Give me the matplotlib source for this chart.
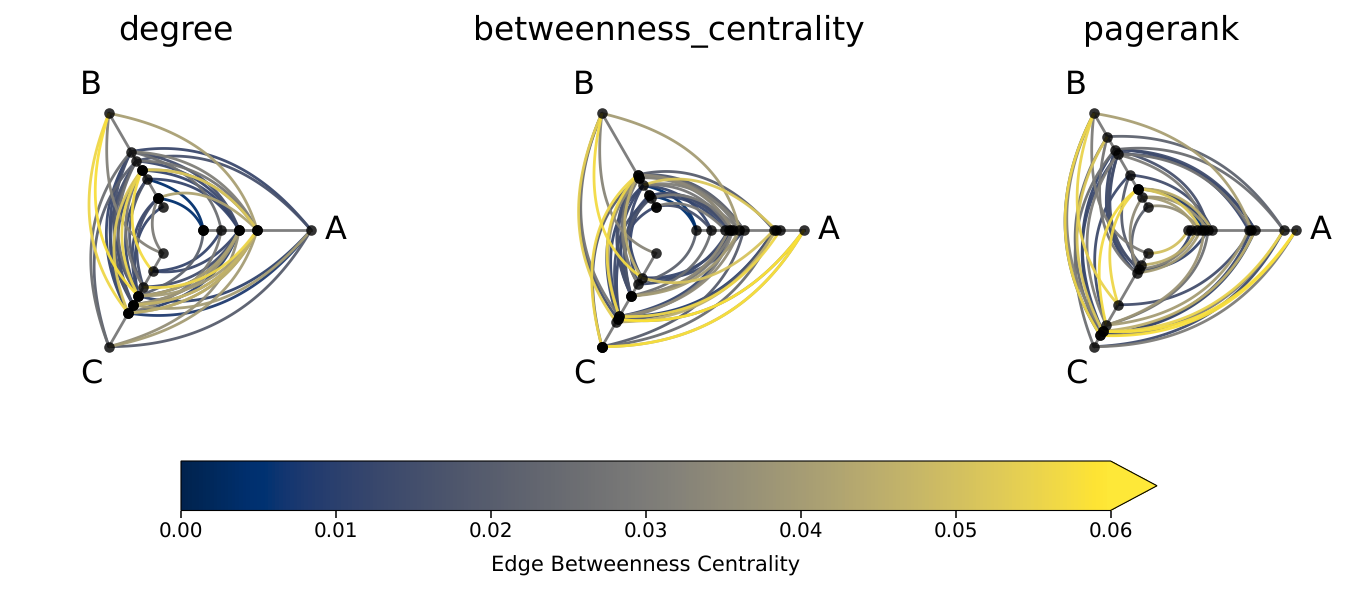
import numpy as np
import matplotlib
matplotlib.use('Agg')
import matplotlib.pyplot as plt
from matplotlib.collections import LineCollection
from matplotlib.colors import Normalize
from matplotlib.cm import ScalarMappable

# node positions along each axis (0 = inner end, 1 = outer end), with how many nodes sit there
degree_a = [0, 0.167, 0.333, 0.5, 1]
degree_a_n = [3, 1, 3, 3, 1]
degree_b = [0, 0.09, 0.295, 0.39, 0.49, 0.59, 1]
degree_b_n = [1, 3, 1, 3, 1, 1, 1]
degree_c = [0, 0.19, 0.36, 0.455, 0.55, 0.64, 1]
degree_c_n = [1, 1, 1, 3, 3, 3, 1]

between_a = [0, 0.14, 0.27, 0.30, 0.32, 0.34, 0.40, 0.44, 0.72, 0.74, 0.78, 1]
between_a_n = [1, 1, 1, 1, 1, 1, 1, 1, 1, 1, 1, 1]
between_b = [0, 0.09, 0.12, 0.23, 0.31, 0.34, 1]
between_b_n = [2, 1, 2, 1, 2, 2, 1]
between_c = [0, 0.26, 0.33, 0.455, 0.675, 0.705, 0.735, 1]
between_c_n = [1, 1, 1, 3, 2, 2, 1, 4]

pagerank_a = [0, 0.03, 0.08, 0.115, 0.145, 0.185, 0.22, 0.56, 0.585, 0.62, 0.885, 1]
pagerank_a_n = [1, 1, 1, 1, 1, 1, 1, 1, 1, 1, 1, 1]
pagerank_b = [0, 0.10, 0.19, 0.34, 0.56, 0.61, 0.75, 1]
pagerank_b_n = [1, 1, 3, 1, 1, 1, 1, 1]
pagerank_c = [0, 0.125, 0.17, 0.21, 0.55, 0.77, 0.835, 0.88, 1]
pagerank_c_n = [1, 1, 1, 1, 1, 1, 2, 2, 1]

# edges between axes as (index on first axis, index on second axis, edge betweenness)
degree_ab = [(1, 0, 0.004), (2, 0, 0.004), (1, 3, 0.042), (3, 3, 0.052), (3, 2, 0.012),
             (4, 2, 0.013), (5, 4, 0.013), (4, 4, 0.016), (5, 1, 0.026), (5, 3, 0.031),
             (6, 3, 0.041), (5, 2, 0.015), (2, 2, 0.012), (3, 3, 0.033), (4, 3, 0.028)]
degree_bc = [(6, 5, 0.056), (6, 3, 0.058), (6, 0, 0.032), (5, 6, 0.026), (4, 6, 0.021),
             (5, 5, 0.012), (5, 4, 0.013), (4, 4, 0.018), (4, 3, 0.025), (3, 5, 0.052),
             (3, 1, 0.057), (3, 3, 0.055), (3, 4, 0.014), (2, 3, 0.012), (2, 2, 0.018),
             (1, 2, 0.015), (1, 3, 0.013), (3, 2, 0.028), (5, 3, 0.016), (4, 5, 0.014),
             (0, 3, 0.012), (1, 0, 0.03)]
degree_ca = [(1, 1, 0.012), (2, 3, 0.056), (3, 0, 0.022), (3, 2, 0.012), (3, 3, 0.04),
             (4, 2, 0.025), (5, 3, 0.041), (5, 2, 0.01), (5, 4, 0.008), (4, 4, 0.04),
             (6, 4, 0.02), (6, 3, 0.04), (6, 2, 0.036), (2, 2, 0.015), (4, 3, 0.035),
             (5, 1, 0.03), (3, 4, 0.011), (4, 2, 0.038), (1, 2, 0.013), (5, 3, 0.045),
             (3, 2, 0.042), (4, 3, 0.047)]

between_ab = [(2, 0, 0.005), (3, 0, 0.005), (6, 6, 0.04), (5, 8, 0.02), (3, 9, 0.052),
              (5, 7, 0.018), (4, 6, 0.03), (4, 5, 0.032), (3, 4, 0.028), (2, 3, 0.014),
              (1, 2, 0.012), (0, 1, 0.016), (2, 4, 0.015), (3, 7, 0.031), (5, 5, 0.034),
              (3, 1, 0.012), (1, 6, 0.03), (2, 5, 0.013), (0, 2, 0.03), (4, 7, 0.025)]
between_bc = [(6, 6, 0.054), (6, 1, 0.057), (6, 0, 0.033), (6, 5, 0.015), (6, 4, 0.028),
              (5, 7, 0.056), (4, 7, 0.02), (5, 4, 0.056), (5, 3, 0.014), (4, 3, 0.016),
              (3, 3, 0.013), (3, 4, 0.012), (2, 3, 0.014), (1, 3, 0.017), (5, 2, 0.025),
              (4, 5, 0.014), (3, 1, 0.013), (2, 2, 0.012), (1, 4, 0.014), (4, 4, 0.036),
              (4, 2, 0.03), (0, 4, 0.013), (5, 1, 0.045)]
between_ca = [(7, 11, 0.058), (7, 11, 0.042), (5, 11, 0.059), (5, 11, 0.03), (4, 8, 0.009),
              (7, 8, 0.025), (3, 5, 0.03), (1, 8, 0.051), (2, 0, 0.022), (3, 1, 0.026),
              (3, 4, 0.013), (3, 6, 0.04), (4, 6, 0.035), (4, 4, 0.012), (6, 9, 0.045),
              (1, 5, 0.012), (2, 3, 0.014), (3, 3, 0.035), (5, 8, 0.018), (4, 10, 0.056),
              (7, 7, 0.02), (1, 7, 0.013), (5, 5, 0.03)]

pagerank_ab = [(2, 5, 0.004), (2, 4, 0.005), (1, 2, 0.04), (2, 3, 0.052), (2, 5, 0.012),
               (7, 8, 0.041), (6, 10, 0.022), (4, 9, 0.012), (5, 7, 0.013), (5, 10, 0.025),
               (4, 4, 0.03), (5, 5, 0.016), (1, 5, 0.038), (0, 3, 0.036), (3, 6, 0.015),
               (4, 8, 0.028), (5, 9, 0.014), (2, 6, 0.045)]
pagerank_bc = [(7, 7, 0.056), (7, 6, 0.032), (7, 4, 0.055), (7, 0, 0.03), (6, 7, 0.024),
               (5, 8, 0.026), (6, 6, 0.052), (2, 5, 0.057), (2, 4, 0.056), (4, 3, 0.014),
               (5, 3, 0.013), (4, 2, 0.015), (3, 1, 0.02), (1, 2, 0.035), (5, 6, 0.012),
               (4, 7, 0.013), (3, 5, 0.014), (6, 3, 0.028), (7, 7, 0.012), (5, 2, 0.016),
               (0, 3, 0.022), (4, 5, 0.03)]
pagerank_ca = [(6, 11, 0.058), (7, 11, 0.058), (8, 11, 0.03), (8, 10, 0.014), (4, 8, 0.015),
               (5, 7, 0.04), (2, 5, 0.012), (1, 2, 0.045), (3, 3, 0.04), (5, 5, 0.026),
               (7, 10, 0.03), (6, 9, 0.045), (7, 9, 0.012), (6, 10, 0.055), (3, 1, 0.012),
               (0, 0, 0.05), (2, 2, 0.033), (5, 4, 0.038), (7, 8, 0.013)]

titles = ['degree', 'betweenness_centrality', 'pagerank']
axis_names = ['A', 'B', 'C']
axis_angles = [0, 120, 240]
cbar_ticks = [0.00, 0.01, 0.02, 0.03, 0.04, 0.05, 0.06]

W, H = 1347, 590
PX = 26.94  # pixels per radial unit
INNER, OUTER = 1, 5


def to_xy(rho, angle):
    a = np.deg2rad(angle)
    return np.array([rho * np.cos(a), rho * np.sin(a)])


def frac_to_rho(f):
    return INNER + (OUTER - INNER) * f


# quadratic bezier with the control point halfway in angle and in radius
def edge_curve(f0, ang0, f1, ang1):
    r0, r1 = frac_to_rho(f0), frac_to_rho(f1)
    if ang1 < ang0:
        ang1 += 360
    p0 = to_xy(r0, ang0)
    p1 = to_xy(r1, ang1)
    c = to_xy((r0 + r1) / 2, (ang0 + ang1) / 2)
    t = np.linspace(0, 1, 60)[:, None]
    return (1 - t) ** 2 * p0 + 2 * t * (1 - t) * c + t ** 2 * p1


def hive_panel(ax, title, pos, counts, edges, norm):
    for k in range(3):
        xy = np.array([to_xy(INNER, axis_angles[k]), to_xy(OUTER, axis_angles[k])])
        ax.plot(xy[:, 0], xy[:, 1], color='black', alpha=0.5, lw=2, zorder=1)
    pairs = [(1, 0), (1, 2), (2, 0)]
    for (k0, k1), elist in zip(pairs, edges):
        curves = []
        vals = []
        # brighter edges are drawn last
        for i, j, v in sorted(elist, key=lambda e: e[2]):
            ang0 = axis_angles[k0]
            ang1 = axis_angles[k1]
            if k0 == 1 and k1 == 0:
                # the A-B sector runs from 0 to 120 degrees
                curves.append(edge_curve(pos[k1][j], ang1, pos[k0][i], ang0))
            else:
                curves.append(edge_curve(pos[k0][i], ang0, pos[k1][j], ang1))
            vals.append(v)
        lc = LineCollection(curves, cmap='cividis', norm=norm, linewidths=2.0, alpha=0.95, zorder=2)
        lc.set_array(np.array(vals))
        ax.add_collection(lc)
    for k in range(3):
        for f, n in zip(pos[k], counts[k]):
            xy = to_xy(frac_to_rho(f), axis_angles[k])
            ax.scatter([xy[0]] * n, [xy[1]] * n, s=58, color='black', alpha=0.8, lw=0, zorder=3)
    for name, x, y in zip(axis_names, [5.93, -3.17, -3.17], [-0.02, 5.37, -5.37]):
        ax.text(x, y, name, fontsize=23.3, ha='center', va='center')
    ax.text(0, 7.09, title, fontsize=23.7, ha='center', va='baseline')
    ax.set_xlim(-6.5, 6.5)
    ax.set_ylim(-7.5, 7.5)
    ax.axis('off')


plt.rcParams['font.family'] = 'DejaVu Sans'
plt.rcParams['text.hinting'] = 'none'
plt.rcParams['text.hinting_factor'] = 1
fig = plt.figure(figsize=(W / 100, H / 100), dpi=100)
norm = Normalize(vmin=0, vmax=0.06)

panels = [
    (176.3, [degree_a, degree_b, degree_c], [degree_a_n, degree_b_n, degree_c_n],
     [degree_ab, degree_bc, degree_ca]),
    (669.3, [between_a, between_b, between_c], [between_a_n, between_b_n, between_c_n],
     [between_ab, between_bc, between_ca]),
    (1161.3, [pagerank_a, pagerank_b, pagerank_c], [pagerank_a_n, pagerank_b_n, pagerank_c_n],
     [pagerank_ab, pagerank_bc, pagerank_ca]),
]
for title, (cx, pos, counts, edges) in zip(titles, panels):
    w, h = 13 * PX, 15 * PX
    ax = fig.add_axes([(cx - w / 2) / W, 1 - (230 + h / 2) / H, w / W, h / H])
    hive_panel(ax, title, pos, counts, edges, norm)

cax = fig.add_axes([181 / W, 1 - 510.5 / H, (1157 - 181) / W, 49.5 / H])
sm = ScalarMappable(norm=norm, cmap='cividis')
cb = fig.colorbar(sm, cax=cax, orientation='horizontal', extend='max')
cb.set_ticks(cbar_ticks)
cb.ax.tick_params(labelsize=14.6, length=5, width=1.1)
cb.set_label('Edge Betweenness Centrality', fontsize=14.9, labelpad=10)

fig.savefig('out.png', dpi=100)
